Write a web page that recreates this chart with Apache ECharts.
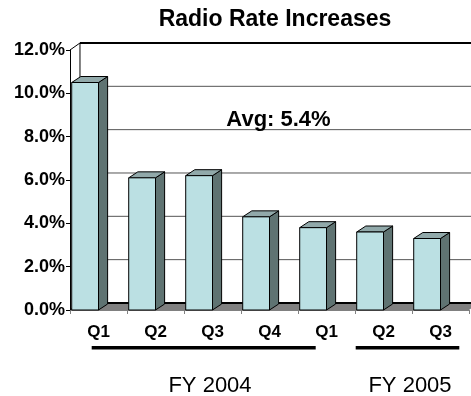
<!DOCTYPE html>
<html>
<head>
<meta charset="utf-8">
<script src="https://cdn.jsdelivr.net/npm/echarts@6/dist/echarts.min.js"></script>
<style>
  html, body { margin: 0; padding: 0; background: #fff; }
  #chart { width: 471px; height: 396px; }
</style>
</head>
<body>
<div id="chart"></div>
<script>
// Quarterly radio rate increases (percent)
const quarters = ['Q1', 'Q2', 'Q3', 'Q4', 'Q1', 'Q2', 'Q3'];
const rateIncrease = [10.5, 6.1, 6.2, 4.3, 3.8, 3.6, 3.3];
const yTicks = [0, 2, 4, 6, 8, 10, 12];
const fiscalYears = ['FY 2004', 'FY 2005'];

const avg = rateIncrease.reduce((s, v) => s + v, 0) / rateIncrease.length;

const FONT = '"Liberation Sans", Arial, sans-serif';
const FRONT = '#bbe0e3';
const SIDE = '#5f7372';
const TOP = '#91a9aa';

// Back wall, side wall edge and floor of the pseudo-3D plot box
function renderWalls(params, api) {
  const cs = params.coordSys;
  const band = api.size([1, 0])[0];
  const dx = band * 0.175, dy = band * 0.123;
  const xl = cs.x, xr = cs.x + cs.width;
  const yb = api.coord([0, yTicks[0]])[1];
  const yTop = api.coord([0, yTicks[yTicks.length - 1]])[1];
  const children = [];
  children.push({
    type: 'polygon',
    shape: { points: [[xl, yb], [xr, yb], [xr + dx, yb - dy], [xl + dx, yb - dy]] },
    style: { fill: '#808080' }
  });
  yTicks.forEach((t, k) => {
    const y = api.coord([0, t])[1] - dy;
    const edge = k === 0 || k === yTicks.length - 1;
    children.push({
      type: 'line',
      shape: { x1: xl + dx, y1: y, x2: xr + dx, y2: y },
      style: { stroke: edge ? '#000' : '#555', lineWidth: edge ? 2 : 1 }
    });
  });
  children.push({ type: 'line', shape: { x1: xl + dx, y1: yTop - dy, x2: xl + dx, y2: yb - dy }, style: { stroke: '#000', lineWidth: 1 } });
  children.push({ type: 'line', shape: { x1: xl, y1: yTop, x2: xl + dx, y2: yTop - dy }, style: { stroke: '#000', lineWidth: 1 } });
  children.push({ type: 'line', shape: { x1: xl, y1: yb, x2: xl + dx, y2: yb - dy }, style: { stroke: '#000', lineWidth: 1 } });
  return { type: 'group', children };
}

// Box-shaped column: front face, right side and top
function renderBar(params, api) {
  const i = api.value(0), v = api.value(1);
  const band = api.size([1, 0])[0];
  const base = api.coord([i, 0]), peak = api.coord([i, v]);
  const x0 = base[0] - band / 2 + band * 0.03;
  const x1 = x0 + band * 0.47;
  const dx = band * 0.16, dy = band * 0.105;
  const yb = base[1], yt = peak[1];
  const edge = { stroke: '#000', lineWidth: 1, lineJoin: 'round' };
  return {
    type: 'group',
    children: [
      { type: 'polygon', shape: { points: [[x1, yb], [x1 + dx, yb - dy], [x1 + dx, yt - dy], [x1, yt]] }, style: Object.assign({ fill: SIDE }, edge) },
      { type: 'polygon', shape: { points: [[x0, yt], [x1, yt], [x1 + dx, yt - dy], [x0 + dx, yt - dy]] }, style: Object.assign({ fill: TOP }, edge) },
      { type: 'rect', shape: { x: x0, y: yt, width: x1 - x0, height: yb - yt }, style: Object.assign({ fill: FRONT }, edge) }
    ]
  };
}

const chart = echarts.init(document.getElementById('chart'), null, { renderer: 'canvas' });

chart.setOption({
  animation: false,
  backgroundColor: '#fff',
  grid: { left: 70, right: 2, top: 50, bottom: 86, containLabel: false, outerBoundsMode: 'none' },
  xAxis: {
    type: 'category',
    data: quarters,
    axisLine: { show: true, lineStyle: { color: '#808080', width: 1 } },
    axisTick: { show: true, length: 4, lineStyle: { color: '#808080' } },
    axisLabel: { color: '#000', fontFamily: FONT, fontWeight: 'bold', fontSize: 17, margin: 14 },
    splitLine: { show: false }
  },
  yAxis: {
    type: 'value',
    min: yTicks[0],
    max: yTicks[yTicks.length - 1],
    interval: yTicks[1] - yTicks[0],
    axisLine: { show: true, lineStyle: { color: '#000', width: 1 } },
    axisTick: { show: true, length: 4, lineStyle: { color: '#000' } },
    axisLabel: {
      color: '#000', fontFamily: FONT, fontWeight: 'bold', fontSize: 18, margin: 5,
      formatter: v => v.toFixed(1) + '%'
    },
    splitLine: { show: false }
  },
  series: [
    {
      type: 'custom',
      name: 'walls',
      silent: true,
      z: 1,
      data: [[0, 0]],
      renderItem: renderWalls
    },
    {
      type: 'custom',
      name: 'Rate increase',
      z: 2,
      data: rateIncrease.map((v, i) => [i, v]),
      encode: { x: 0, y: 1 },
      renderItem: renderBar
    }
  ],
  graphic: [
    {
      type: 'text', x: 275, y: 20, z: 10,
      style: { text: 'Radio Rate Increases', fontFamily: FONT, fontWeight: 'bold', fontSize: 23, fill: '#000', align: 'center', verticalAlign: 'middle' }
    },
    {
      type: 'text', x: 278.5, y: 119.5, z: 10,
      style: { text: 'Avg: ' + avg.toFixed(1) + '%', fontFamily: FONT, fontWeight: 'bold', fontSize: 22, fill: '#000', align: 'center', verticalAlign: 'middle' }
    },
    { type: 'line', z: 10, shape: { x1: 91.7, y1: 347.7, x2: 315.7, y2: 347.7 }, style: { stroke: '#000', lineWidth: 3.5 } },
    { type: 'line', z: 10, shape: { x1: 355.7, y1: 347.7, x2: 459.3, y2: 347.7 }, style: { stroke: '#000', lineWidth: 3.5 } },
    {
      type: 'text', x: 210, y: 386, z: 10,
      style: { text: fiscalYears[0], fontFamily: FONT, fontSize: 22, fill: '#000', align: 'center', verticalAlign: 'middle' }
    },
    {
      type: 'text', x: 410, y: 386, z: 10,
      style: { text: fiscalYears[1], fontFamily: FONT, fontSize: 22, fill: '#000', align: 'center', verticalAlign: 'middle' }
    }
  ]
});
</script>
</body>
</html>
